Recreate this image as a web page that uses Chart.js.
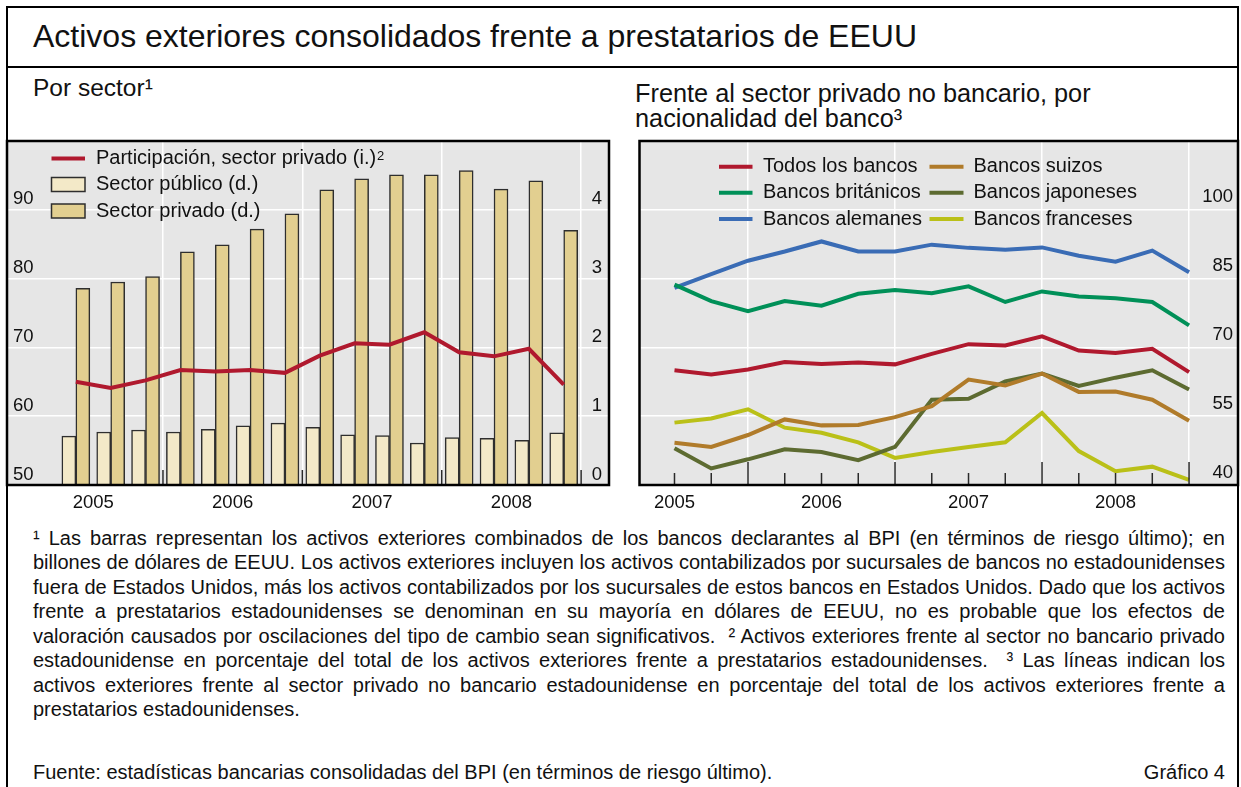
<!DOCTYPE html>
<html lang="es">
<head>
<meta charset="utf-8">
<title>Activos exteriores consolidados frente a prestatarios de EEUU</title>
<script src="https://cdn.jsdelivr.net/npm/chart.js@4.4.1/dist/chart.umd.min.js"></script>
<style>
  html, body { margin: 0; padding: 0; background: #fff; }
  body { width: 1241px; height: 787px; position: relative; overflow: hidden;
         font-family: "Liberation Sans", Arial, sans-serif; color: #111; }
  .abs { position: absolute; white-space: nowrap; }
  .frame { position: absolute; left: 6px; top: 6px; width: 1233px; height: 830px;
           border: 2.5px solid #000; box-sizing: border-box; }
  .rule { position: absolute; left: 6px; top: 65.5px; width: 1233px; height: 2.5px; background: #000; }
  .title { left: 33px; top: 19.6px; font-size: 32px; line-height: 32px; }
  canvas.chart { position: absolute; top: 121px; width: 620px; height: 400px; }
  .notes { position: absolute; left: 33px; top: 525.8px; width: 1192px; font-size: 20px; line-height: 24.5px; }
  .notes div { white-space: nowrap; text-align: justify; text-align-last: justify; }
  .notes div.last { text-align: left; text-align-last: left; }
  .source { top: 762px; font-size: 20px; line-height: 20px; }
</style>
</head>
<body>
<div class="frame"></div>
<div class="rule"></div>
<div class="abs title">Activos exteriores consolidados frente a prestatarios de EEUU</div>
<div class="abs" style="left:33px; top:76px; font-size:24.5px; line-height:24.5px;">Por sector¹</div>
<div class="abs" style="left:635px; top:80.5px; font-size:25.3px; line-height:25.3px;">Frente al sector privado no bancario, por</div>
<div class="abs" style="left:635px; top:105.5px; font-size:25.3px; line-height:25.3px;">nacionalidad del banco³</div>

<canvas id="left" class="chart" width="620" height="400" style="left:0px"></canvas>
<canvas id="right" class="chart" width="620" height="400" style="left:630px"></canvas>

<div class="notes">
  <div>¹ Las barras representan los activos exteriores combinados de los bancos declarantes al BPI (en términos de riesgo último); en</div>
  <div>billones de dólares de EEUU. Los activos exteriores incluyen los activos contabilizados por sucursales de bancos no estadounidenses</div>
  <div>fuera de Estados Unidos, más los activos contabilizados por los sucursales de estos bancos en Estados Unidos. Dado que los activos</div>
  <div>frente a prestatarios estadounidenses se denominan en su mayoría en dólares de EEUU, no es probable que los efectos de</div>
  <div>valoración causados por oscilaciones del tipo de cambio sean significativos.&nbsp; ² Activos exteriores frente al sector no bancario privado</div>
  <div>estadounidense en porcentaje del total de los activos exteriores frente a prestatarios estadounidenses.&nbsp; ³ Las líneas indican los</div>
  <div>activos exteriores frente al sector privado no bancario estadounidense en porcentaje del total de los activos exteriores frente a</div>
  <div class="last">prestatarios estadounidenses.</div>
</div>
<div class="abs source" style="left:33px;">Fuente: estadísticas bancarias consolidadas del BPI (en términos de riesgo último).</div>
<div class="abs source" style="right:16px;">Gráfico 4</div>

<script>
// quarters shown in both panels
const quarters = ["2005-T2", "2005-T3", "2005-T4", "2006-T1", "2006-T2", "2006-T3", "2006-T4",
                  "2007-T1", "2007-T2", "2007-T3", "2007-T4", "2008-T1", "2008-T2", "2008-T3", "2008-T4"];
const years = [2005, 2006, 2007, 2008];

// left panel: share in % (left axis), claims in USD trillions (right axis)
const privateShare = [65.0, 64.1, 65.2, 66.7, 66.5, 66.7, 66.3, 68.8, 70.6, 70.4, 72.2, 69.3, 68.7, 69.8, 64.6];
const publicSector = [0.71, 0.77, 0.80, 0.77, 0.81, 0.86, 0.90, 0.84, 0.73, 0.72, 0.61, 0.69, 0.68, 0.65, 0.76];
const privateSector = [2.86, 2.95, 3.03, 3.39, 3.49, 3.72, 3.94, 4.29, 4.45, 4.51, 4.51, 4.57, 4.30, 4.42, 3.70];
const leftTicks = [50, 60, 70, 80, 90];
const leftRightTicks = [0, 1, 2, 3, 4];

// right panel: share by bank nationality, %
const todosBancos = [65.0, 64.1, 65.2, 66.8, 66.4, 66.7, 66.3, 68.6, 70.7, 70.4, 72.4, 69.3, 68.8, 69.7, 64.6];
const britanicos = [83.7, 80.1, 77.9, 80.1, 79.1, 81.7, 82.5, 81.8, 83.3, 79.9, 82.2, 81.1, 80.7, 79.9, 74.8];
const alemanes = [83.0, 86.0, 88.9, 90.9, 93.1, 90.9, 90.9, 92.4, 91.7, 91.3, 91.8, 90.0, 88.7, 91.1, 86.4];
const suizos = [49.2, 48.3, 50.9, 54.3, 53.0, 53.1, 54.8, 57.2, 63.0, 61.7, 64.3, 60.3, 60.4, 58.6, 54.0];
const japoneses = [48.0, 43.6, 45.6, 47.8, 47.2, 45.4, 48.3, 58.6, 58.8, 62.6, 64.3, 61.6, 63.4, 65.0, 60.8];
const franceses = [53.6, 54.5, 56.5, 52.5, 51.4, 49.3, 45.9, 47.2, 48.3, 49.3, 55.7, 47.4, 43.0, 44.0, 41.1];
const rightTicks = [40, 55, 70, 85, 100];

const FONT = "'Liberation Sans', Arial, sans-serif";
const INK = "#111";
const GRID = "#ffffff";

// quarter label -> fractional year (end of quarter / middle of quarter)
const quarterEnd = quarters.map(q => { const [y, t] = q.split("-T"); return +y + (+t) / 4; });
const quarterMid = quarterEnd.map(v => v - 0.125);
const xy = (xs, ys) => ys.map((v, i) => ({ x: xs[i], y: v }));
const yearGrid = years.map(y => y + 1);

// grey plot panel, frame, inner tick marks and in-plot legend
const panelPlugin = {
  id: "panel",
  beforeDraw(chart) {
    const { ctx, chartArea: a } = chart;
    ctx.save();
    ctx.fillStyle = "#e6e6e6";
    ctx.fillRect(a.left, a.top, a.right - a.left, a.bottom - a.top);
    ctx.restore();
  },
  afterDraw(chart, args, opts) {
    const { ctx, chartArea: a } = chart;
    const xs = chart.scales.x;
    ctx.save();
    ctx.strokeStyle = "#2a2a2a";
    ctx.lineWidth = 1.5;
    (opts.marks || []).forEach(m => {
      const x = xs.getPixelForValue(m.value);
      ctx.beginPath();
      ctx.moveTo(x, a.bottom);
      ctx.lineTo(x, a.bottom - m.len);
      ctx.stroke();
    });

    ctx.strokeStyle = "#000";
    ctx.lineWidth = 2.5;
    ctx.strokeRect(a.left, a.top, a.right - a.left, a.bottom - a.top);

    ctx.textBaseline = "middle";
    ctx.textAlign = "left";
    (opts.legend || []).forEach(item => {
      const ds = chart.data.datasets[item.index];
      const x = a.left + item.x, y = a.top + item.y;
      if (item.box) {
        ctx.fillStyle = ds.backgroundColor;
        ctx.fillRect(x, y - 7, item.w, 14);
        ctx.strokeStyle = ds.borderColor;
        ctx.lineWidth = 1.5;
        ctx.strokeRect(x, y - 7, item.w, 14);
      } else {
        ctx.strokeStyle = ds.borderColor;
        ctx.lineWidth = 4;
        ctx.beginPath();
        ctx.moveTo(x, y);
        ctx.lineTo(x + item.w, y);
        ctx.stroke();
      }
      ctx.fillStyle = INK;
      ctx.font = "20px " + FONT;
      const tx = x + item.w + item.gap;
      ctx.fillText(ds.label, tx, y);
      if (item.sup) {
        const w = ctx.measureText(ds.label).width;
        ctx.font = "13px " + FONT;
        ctx.textBaseline = "alphabetic";
        ctx.fillText(item.sup, tx + w + 1, y + 1);
        ctx.textBaseline = "middle";
      }
    });
    ctx.restore();
  }
};

function xScales(min, max, labelPad) {
  return {
    x: {
      type: "linear", position: "bottom", min, max, offset: false,
      afterBuildTicks: s => { s.ticks = years.map(y => ({ value: y + 0.5 })); },
      afterFit: s => { s.height = 36; },
      ticks: { callback: v => String(Math.floor(v)), color: INK, font: { size: 18.5, family: FONT },
               padding: labelPad, maxRotation: 0, autoSkip: false },
      grid: { display: false, drawTicks: false, offset: false },
      border: { display: false }
    },
    xg: {
      type: "linear", position: "bottom", min, max, offset: false,
      afterBuildTicks: s => { s.ticks = yearGrid.map(v => ({ value: v })); },
      afterFit: s => { s.height = 0; },
      ticks: { display: false },
      grid: { color: GRID, lineWidth: 1.5, drawTicks: false, offset: false },
      border: { display: false }
    }
  };
}

function yScale(position, min, max, ticks, pad, offset, showGrid) {
  return {
    type: "linear", position, min, max,
    afterBuildTicks: s => { s.ticks = ticks.concat([max]).map(v => ({ value: v })); },
    afterFit: s => { s.width = 0; },
    ticks: { mirror: true, padding: pad, labelOffset: offset, color: INK,
             font: { size: 18.5, family: FONT },
             callback: v => (v === max ? "" : String(v)) },
    grid: showGrid ? { color: GRID, lineWidth: 1.5, drawTicks: false } : { display: false, drawTicks: false },
    border: { display: false }
  };
}

const RED = "#b0192e";
// top padding is larger than any padding the axes ask for, so the plot top stays at 141px
const PAD_TOP = 20;

new Chart(document.getElementById("left"), {
  type: "bar",
  plugins: [panelPlugin],
  data: {
    datasets: [
      { type: "line", label: "Participación, sector privado (i.)", data: xy(quarterMid, privateShare),
        xAxisID: "x", yAxisID: "y", borderColor: RED, borderWidth: 4, pointRadius: 0, tension: 0, order: 0 },
      { label: "Sector público (d.)", data: xy(quarterMid, publicSector), xAxisID: "x", yAxisID: "y1",
        backgroundColor: "#f3e9c8", borderColor: "#2e2e2e", borderWidth: 1.5, barThickness: 14, order: 1 },
      { label: "Sector privado (d.)", data: xy(quarterMid, privateSector), xAxisID: "x", yAxisID: "y1",
        backgroundColor: "#e2cf90", borderColor: "#2e2e2e", borderWidth: 1.5, barThickness: 14, order: 1 }
    ]
  },
  options: {
    responsive: false, animation: false, devicePixelRatio: 1,
    layout: { padding: { left: 7, right: 11, top: PAD_TOP, bottom: 0 }, autoPadding: false },
    plugins: {
      legend: { display: false }, tooltip: { enabled: false },
      panel: {
        marks: yearGrid.map(v => ({ value: v, len: 15 })),
        legend: [
          { index: 0, x: 44.5, y: 17.5, w: 33.5, gap: 11, sup: "2" },
          { index: 1, x: 44.5, y: 43.5, w: 33.5, gap: 11, box: true },
          { index: 2, x: 44.5, y: 70, w: 33.5, gap: 11, box: true }
        ]
      }
    },
    scales: Object.assign(xScales(2004.881, 2009.20, 7), {
      y: yScale("left", 50, 100, leftTicks, 6, -10.5, true),
      y1: yScale("right", 0, 5, leftRightTicks, -7, -10.5, false)
    })
  }
});

const rightSeries = [
  { label: "Todos los bancos", data: todosBancos, color: RED },
  { label: "Bancos británicos", data: britanicos, color: "#009058" },
  { label: "Bancos alemanes", data: alemanes, color: "#3a6cb5" },
  { label: "Bancos suizos", data: suizos, color: "#b07b2a" },
  { label: "Bancos japoneses", data: japoneses, color: "#5d6b31" },
  { label: "Bancos franceses", data: franceses, color: "#bac018" }
];

new Chart(document.getElementById("right"), {
  type: "line",
  plugins: [panelPlugin],
  data: {
    datasets: rightSeries.map(s => ({
      label: s.label, data: xy(quarterEnd, s.data), xAxisID: "x", yAxisID: "y",
      borderColor: s.color, borderWidth: 4, pointRadius: 0, tension: 0
    }))
  },
  options: {
    responsive: false, animation: false, devicePixelRatio: 1,
    layout: { padding: { left: 9.5, right: 12, top: PAD_TOP, bottom: 0 }, autoPadding: false },
    plugins: {
      legend: { display: false }, tooltip: { enabled: false },
      panel: {
        marks: quarterEnd.map(v => ({ value: v, len: Number.isInteger(v) ? 23 : 12 })),
        legend: [
          { index: 0, x: 79.5, y: 25.7, w: 33.5, gap: 10.5 },
          { index: 1, x: 79.5, y: 51.7, w: 33.5, gap: 10.5 },
          { index: 2, x: 79.5, y: 78, w: 33.5, gap: 10.5 },
          { index: 3, x: 290, y: 25.7, w: 34, gap: 10 },
          { index: 4, x: 290, y: 51.7, w: 34, gap: 10 },
          { index: 5, x: 290, y: 78, w: 34, gap: 10 }
        ]
      }
    },
    scales: Object.assign(xScales(2005.262, 2009.333, 7), {
      y: yScale("right", 40, 115, rightTicks, -5, -12.5, true)
    })
  }
});
</script>
</body>
</html>
